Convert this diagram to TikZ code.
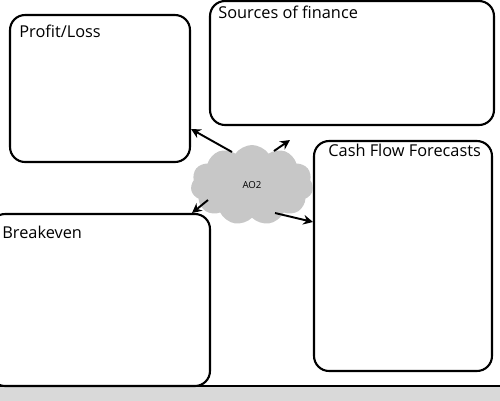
\documentclass[tikz,border=0pt]{standalone}
\usepackage{fontspec}
\setmainfont{Open Sans}
\usetikzlibrary{positioning, arrows.meta, shapes.symbols}

\begin{document}
\begin{tikzpicture}[x=0.02cm, y=-0.02cm, font=\fontsize{9.3pt}{11pt}\selectfont,
      kotak/.style={draw, line width=1.2pt, rounded corners=0.3cm, inner sep=0pt},
      judul/.style={anchor=west, inner sep=0pt},
      awan/.style={cloud, cloud puffs=11, cloud puff arc=110, aspect=1.6, fill=black!22, draw=none,
                   minimum width=2.45cm, minimum height=1.6cm, font=\fontsize{5.5pt}{6pt}\selectfont},
      panah/.style={-{Stealth[length=5.5pt, width=5.5pt]}, line width=1.1pt}]
      \useasboundingbox (0,0) rectangle (500,400);
      \clip (0,0) rectangle (500,400);

      % strip bawah
      \fill[black!15] (0,386) rectangle (500,402);
      \draw[line width=0.8pt] (0,386) -- (500,386);

      % empat kotak
      \node[kotak, minimum width=3.6cm, minimum height=2.94cm] (pl) at (100,88.5) {};
      \node[kotak, minimum width=5.68cm, minimum height=2.48cm] (sof) at (352,63) {};
      \node[kotak, minimum width=3.56cm, minimum height=4.6cm] (cff) at (403,256) {};
      \node[kotak, minimum width=4.4cm, minimum height=3.44cm] (be) at (100,300) {};

      % judul kotak
      \node[judul] (t_pl) at (19,31) {Profit/Loss};
      \node[judul] (t_sof) at (218,12) {Sources of finance};
      \node[judul] (t_cff) at (328,150) {Cash Flow Forecasts};
      \node[judul] (t_be) at (2,232) {Breakeven};

      % awan tengah
      \node[awan] (ao) at (252,185) {AO2};

      % panah
      \coordinate (p1a) at (232,152); \coordinate (p1b) at (191,129);
      \coordinate (p2a) at (274,151); \coordinate (p2b) at (290,140);
      \coordinate (p3a) at (208,200); \coordinate (p3b) at (192,213);
      \coordinate (p4a) at (275,213); \coordinate (p4b) at (313,222);
      \draw[panah] (p1a) -- (p1b);
      \draw[panah] (p2a) -- (p2b);
      \draw[panah] (p3a) -- (p3b);
      \draw[panah] (p4a) -- (p4b);
    \end{tikzpicture}
\end{document}
